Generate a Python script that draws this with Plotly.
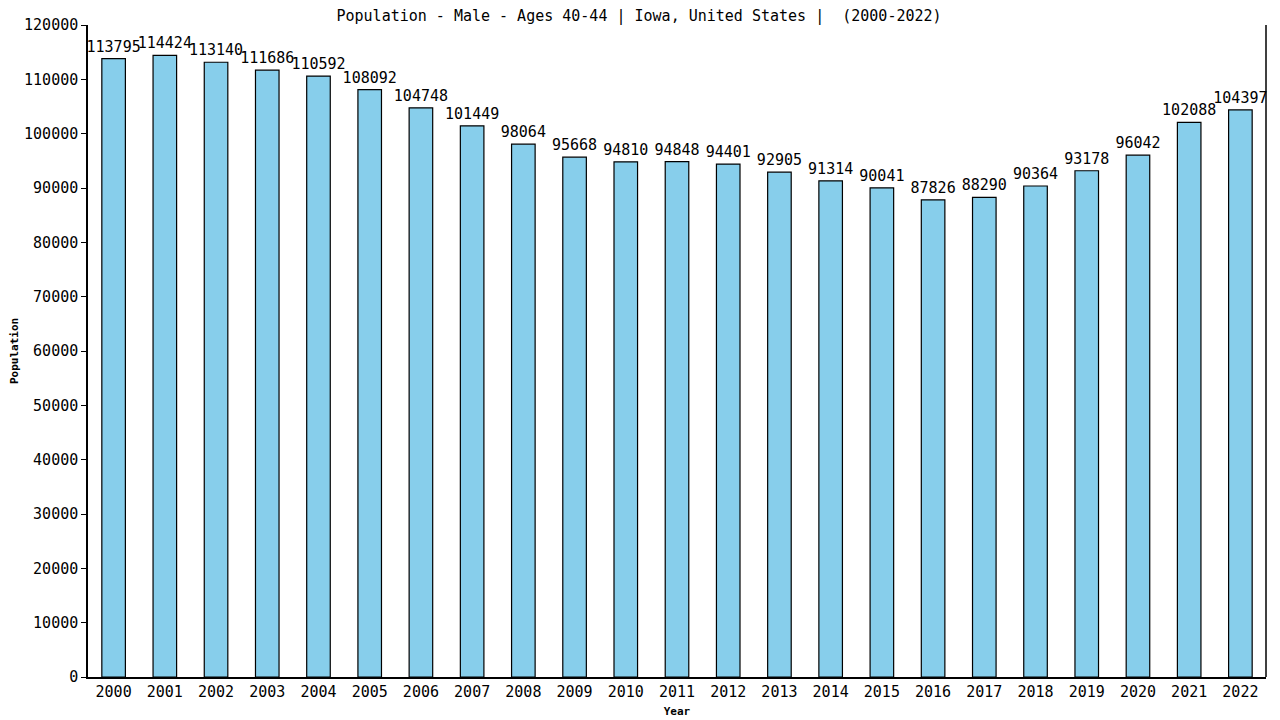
import plotly.graph_objects as go

years = [str(y) for y in range(2000, 2023)]
population = [113795, 114424, 113140, 111686, 110592, 108092, 104748, 101449,
              98064, 95668, 94810, 94848, 94401, 92905, 91314, 90041, 87826,
              88290, 90364, 93178, 96042, 102088, 104397]

mono = "DejaVu Sans Mono"

fig = go.Figure()
fig.add_trace(go.Bar(
    x=years,
    y=population,
    text=[str(v) for v in population],
    textposition="outside",
    constraintext="none",
    cliponaxis=False,
    textfont=dict(family=mono, size=15, color="black"),
    marker=dict(color="#87CEEB", line=dict(color="black", width=1.2)),
))

# page body has an 8px margin, so margins are offset by that
fig.update_layout(
    width=1280,
    height=720,
    paper_bgcolor="white",
    plot_bgcolor="white",
    margin=dict(l=80, r=22, t=17, b=51),
    bargap=0.54,
    showlegend=False,
    title=dict(
        text="Population - Male - Ages 40-44 | Iowa, United States |  (2000-2022)",
        x=0.493, xanchor="center", y=0.996, yanchor="top",
        font=dict(family=mono, size=15, color="black"),
    ),
    font=dict(family=mono, color="black"),
)

fig.update_xaxes(
    type="category",
    automargin=False,
    showline=True, linecolor="black", linewidth=1.5,
    ticks="", tickfont=dict(family=mono, size=15, color="black"),
    title=dict(text="<b>Year</b>", font=dict(family=mono, size=11), standoff=8),
    showgrid=False,
)
fig.update_yaxes(
    range=[0, 120000],
    dtick=10000,
    tickformat="d",
    automargin=False,
    showline=True, linecolor="black", linewidth=1.5,
    ticks="outside", ticklen=5, tickcolor="black",
    tickfont=dict(family=mono, size=15, color="black"),
    title=dict(text="<b>Population</b>", font=dict(family=mono, size=11), standoff=8),
    showgrid=False, zeroline=False,
)

# right border line of the plot area
fig.add_shape(type="line", xref="paper", yref="paper", x0=1, x1=1, y0=0, y1=1,
              line=dict(color="black", width=1.5))

fig.write_html("out.html")
